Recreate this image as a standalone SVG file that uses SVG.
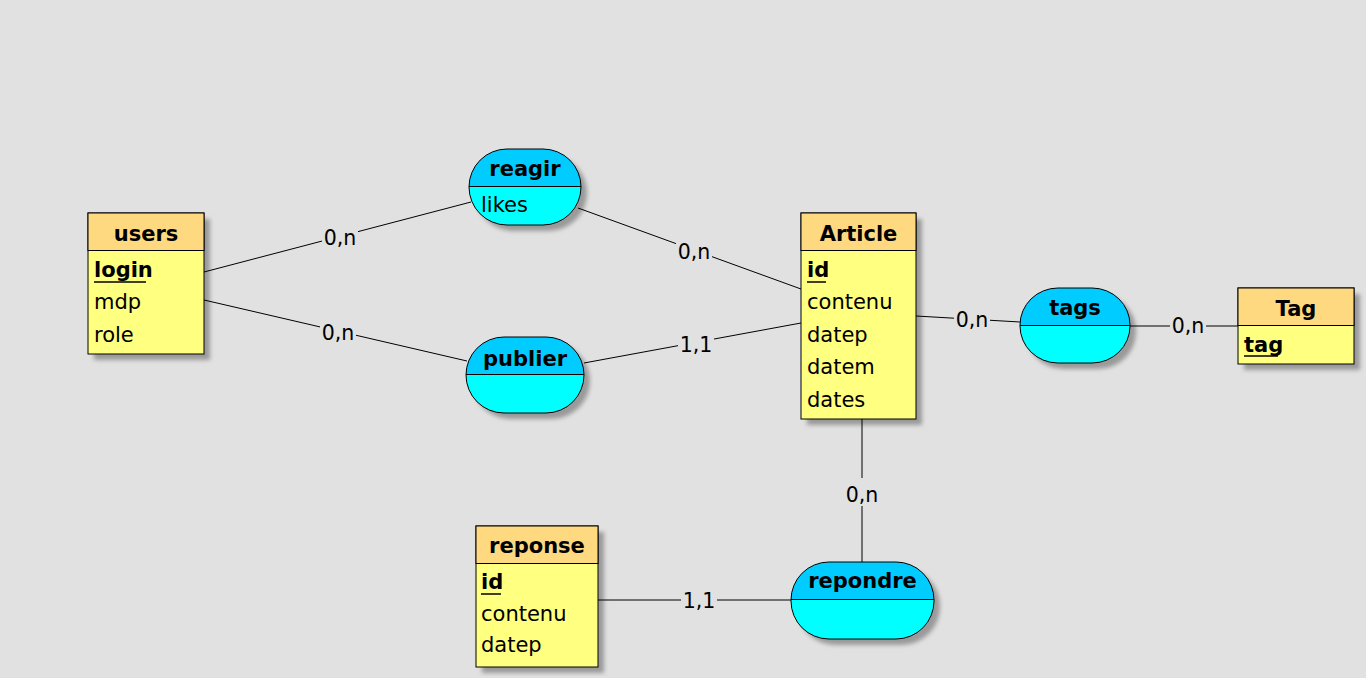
<svg xmlns="http://www.w3.org/2000/svg" width="1366" height="678" viewBox="0 0 1366 678">
<style>
.bg{fill:#e1e1e1}
.sh{fill:#9a9a9a;filter:url(#blur)}
.ebody{fill:#ffff80;stroke:#000;stroke-width:1}
.ehead{fill:#ffd980;stroke:#000;stroke-width:1}
.assoc{fill:url(#ag);stroke:#000;stroke-width:1}
.div{stroke:#000;stroke-width:1}
.title{font-family:"DejaVu Sans",Verdana,sans-serif;font-weight:bold;font-size:21px;fill:#000;text-anchor:middle}
.row{font-family:"DejaVu Sans",Verdana,sans-serif;font-size:21px;fill:#000}
.ul{stroke:#000;stroke-width:1.5}
.lnk{stroke:#000;stroke-width:1;fill:none}
.lbl{font-family:"DejaVu Sans",Verdana,sans-serif;font-size:20.5px;fill:#000;text-anchor:middle}
.lbg{fill:#e1e1e1}
</style>
<defs>
<filter id="blur" x="-20%" y="-20%" width="140%" height="140%"><feGaussianBlur stdDeviation="2"/></filter>
<linearGradient id="ag" x1="0" y1="0" x2="0" y2="1">
<stop offset="0" stop-color="#00ccff"/><stop offset="0.495" stop-color="#00ccff"/>
<stop offset="0.495" stop-color="#00ffff"/><stop offset="1" stop-color="#00ffff"/>
</linearGradient>
</defs>
<rect class="bg" x="0" y="0" width="1366" height="678"/>

<g id="users">
<rect class="sh" x="94" y="219" width="116" height="141"/>
<rect class="ebody" x="88" y="213" width="116" height="141"/>
<rect class="ehead" x="88" y="213" width="116" height="37.5"/>
<text class="title" x="146" y="241">users</text>
<text class="row" x="94" y="277" font-weight="bold">login</text>
<line class="ul" x1="94" y1="282" x2="146" y2="282"/>
<text class="row" x="94" y="309">mdp</text>
<text class="row" x="94" y="342">role</text>
</g>

<g id="Article">
<rect class="sh" x="807" y="219" width="115" height="206"/>
<rect class="ebody" x="801" y="213" width="115" height="206"/>
<rect class="ehead" x="801" y="213" width="115" height="37.5"/>
<text class="title" x="858.5" y="241">Article</text>
<text class="row" x="807" y="277" font-weight="bold">id</text>
<line class="ul" x1="807" y1="282" x2="826" y2="282"/>
<text class="row" x="807" y="309">contenu</text>
<text class="row" x="807" y="342">datep</text>
<text class="row" x="807" y="374">datem</text>
<text class="row" x="807" y="407">dates</text>
</g>

<g id="Tag">
<rect class="sh" x="1244" y="294" width="116" height="76"/>
<rect class="ebody" x="1238" y="288" width="116" height="76"/>
<rect class="ehead" x="1238" y="288" width="116" height="37.5"/>
<text class="title" x="1296" y="316">Tag</text>
<text class="row" x="1244" y="352" font-weight="bold">tag</text>
<line class="ul" x1="1244" y1="356" x2="1278" y2="356"/>
</g>

<g id="reponse">
<rect class="sh" x="482" y="532" width="122" height="141"/>
<rect class="ebody" x="476" y="526" width="122" height="141"/>
<rect class="ehead" x="476" y="526" width="122" height="37.5"/>
<text class="title" x="537" y="553">reponse</text>
<text class="row" x="481" y="589" font-weight="bold">id</text>
<line class="ul" x1="481" y1="594" x2="501" y2="594"/>
<text class="row" x="481" y="621">contenu</text>
<text class="row" x="481" y="652">datep</text>
</g>

<g id="reagir">
<rect class="sh" x="475" y="155" width="112" height="76" rx="38" ry="38"/>
<rect class="assoc" x="469" y="149" width="112" height="76" rx="38" ry="38"/>
<line class="div" x1="469" y1="186.5" x2="581" y2="186.5"/>
<text class="title" x="525" y="176">reagir</text>
<text class="row" x="481" y="212">likes</text>
</g>

<g id="publier">
<rect class="sh" x="472" y="343" width="118" height="76" rx="38" ry="38"/>
<rect class="assoc" x="466" y="337" width="118" height="76" rx="38" ry="38"/>
<line class="div" x1="466" y1="374.5" x2="584" y2="374.5"/>
<text class="title" x="525" y="366">publier</text>
</g>

<g id="tags">
<rect class="sh" x="1026" y="294" width="110" height="75" rx="38" ry="37"/>
<rect class="assoc" x="1020" y="288" width="110" height="75" rx="38" ry="37"/>
<line class="div" x1="1020" y1="325.5" x2="1130" y2="325.5"/>
<text class="title" x="1075" y="315">tags</text>
</g>

<g id="repondre">
<rect class="sh" x="797" y="568" width="143" height="77" rx="38" ry="38"/>
<rect class="assoc" x="791" y="562" width="143" height="77" rx="38" ry="38"/>
<line class="div" x1="791" y1="599.5" x2="934" y2="599.5"/>
<text class="title" x="862.5" y="588">repondre</text>
</g>

<g id="connectors">
<line class="lnk" x1="204" y1="272" x2="471" y2="202"/>
<line class="lnk" x1="204" y1="300" x2="467" y2="361"/>
<line class="lnk" x1="578" y1="208" x2="801" y2="289"/>
<line class="lnk" x1="584" y1="363" x2="801" y2="323"/>
<line class="lnk" x1="916" y1="316" x2="1020" y2="322"/>
<line class="lnk" x1="1130" y1="326" x2="1238" y2="326"/>
<line class="lnk" x1="862" y1="419" x2="862" y2="562"/>
<line class="lnk" x1="598" y1="600" x2="791" y2="600"/>
<rect class="lbg" x="322" y="227" width="36" height="22"/><text class="lbl" x="340" y="245">0,n</text>
<rect class="lbg" x="320" y="322" width="36" height="22"/><text class="lbl" x="338" y="340">0,n</text>
<rect class="lbg" x="676" y="241" width="36" height="22"/><text class="lbl" x="694" y="259">0,n</text>
<rect class="lbg" x="678" y="334" width="36" height="22"/><text class="lbl" x="696" y="352">1,1</text>
<rect class="lbg" x="954" y="309" width="36" height="22"/><text class="lbl" x="972" y="327">0,n</text>
<rect class="lbg" x="1170" y="315" width="36" height="22"/><text class="lbl" x="1188" y="333">0,n</text>
<rect class="lbg" x="844" y="478" width="36" height="28"/><text class="lbl" x="862" y="502">0,n</text>
<rect class="lbg" x="681" y="590" width="36" height="22"/><text class="lbl" x="699" y="608">1,1</text>
</g>
</svg>
